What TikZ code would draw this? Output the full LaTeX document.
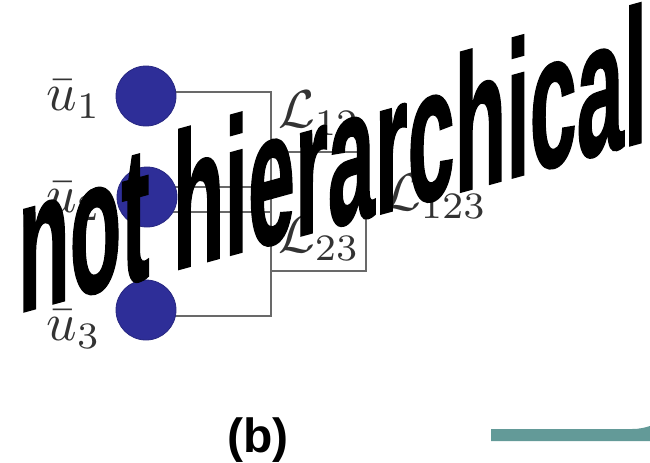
\documentclass[tikz,border=0pt]{standalone}
\usepackage{fontspec}
\newfontfamily\wafont[BoldFeatures={FakeBold=1.3}]{Liberation Sans}
\newfontfamily\capfont{Liberation Sans}
\usetikzlibrary{backgrounds}
\definecolor{dotblue}{RGB}{46,46,152}
\definecolor{wiregray}{RGB}{105,105,105}
\definecolor{barteal}{RGB}{99,154,152}
\tikzset{
  dot/.style={circle, fill=dotblue, draw=dotblue!85!black, line width=0.6pt, minimum size=45pt, inner sep=0pt},
  wire/.style={draw=wiregray, line width=1pt},
  lab/.style={scale=4, inner sep=0pt, text=black!80},
}
\begin{document}
\begin{tikzpicture}[x=0.75pt, y=-0.75pt]
\useasboundingbox (0,0) rectangle (650,462);
% circles
\node[dot] (u1) at (146,96) {};
\node[dot] (u2) at (147,197) {};
\node[dot] (u3) at (146,310) {};
% corner coordinates
\coordinate (k1) at (271,92);
\coordinate (k2) at (271,187);
\coordinate (k3) at (271,212);
\coordinate (k4) at (271,316);
\coordinate (b1) at (271,152);
\coordinate (b2) at (366,152);
\coordinate (b3) at (366,271);
\coordinate (b4) at (271,271);
\begin{pgfonlayer}{background}
\draw[wire] (u1.center |- k1) -- (k1) -- (k4) -- (u3.center |- k4);
\draw[wire] (u2.center |- k2) -- (k2);
\draw[wire] (u2.center |- k3) -- (k3);
\draw[wire] (b1) -- (b2) -- (b3) -- (b4);
\end{pgfonlayer}
% labels
\node[lab, anchor=base east] (lu1) at (102,110) {$\bar u_1$};
\node[lab, anchor=base east] (lu2) at (102,212) {$\bar u_2$};
\node[lab, anchor=base east] (lu3) at (102,340) {$\bar u_3$};
\node[lab, anchor=base west] (l12) at (277,127) {$\mathcal{L}_{12}$};
\node[lab, anchor=base west] (l23) at (277,252) {$\mathcal{L}_{23}$};
\node[lab, anchor=base west] (l123) at (383,210) {$\mathcal{L}_{123}$};
% overlay text
\node[anchor=base west, inner sep=0pt, cm={0.44,0.1206,0,1,(0,0)},
      font=\wafont\bfseries\fontsize{144}{144}\selectfont] (wa) at (18,313) {not hierarchical};
% caption
\node[anchor=base, inner sep=0pt, font=\capfont\bfseries\fontsize{36}{36}\selectfont] (cap) at (258,452) {(b)};
% teal bar
\fill[barteal] (491,429) -- (632,429) .. controls (640,429) and (645,427.5) .. (650,426) -- (650,441) -- (491,441) -- cycle;
\end{tikzpicture}
\end{document}
